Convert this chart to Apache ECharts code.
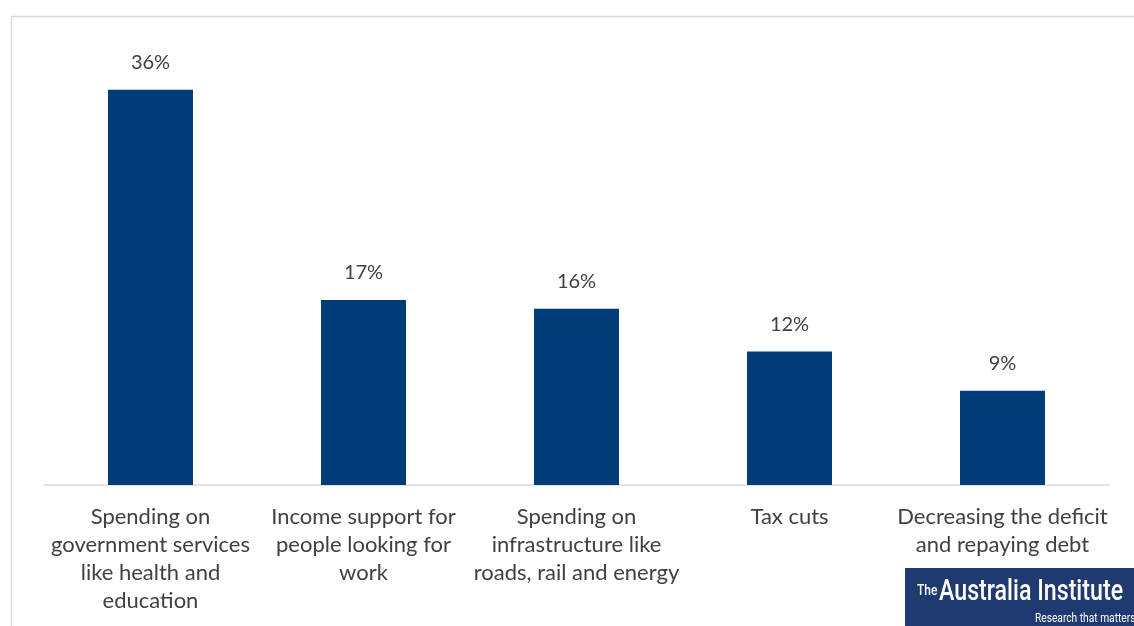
<!DOCTYPE html>
<html>
<head>
<meta charset="utf-8">
<script src="https://cdn.jsdelivr.net/npm/echarts@6/dist/echarts.min.js"></script>
<style>
html,body{margin:0;padding:0;background:#fff;}
#chart{width:1134px;height:626px;}
</style>
</head>
<body>
<div id="chart"></div>
<script>
const categories = [
  "Spending on\ngovernment services\nlike health and\neducation",
  "Income support for\npeople looking for\nwork",
  "Spending on\ninfrastructure like\nroads, rail and energy",
  "Tax cuts",
  "Decreasing the deficit\nand repaying debt"
];
const values = [36.1, 16.9, 16.1, 12.2, 8.6];

const chart = echarts.init(document.getElementById('chart'));
const FONT = 'Lato, "Open Sans", sans-serif';
chart.setOption({
  animation: false,
  grid: {left: 44, right: 25, top: 47, bottom: 141, containLabel: false},
  xAxis: {
    type: 'category',
    data: categories,
    axisLine: {lineStyle: {color: '#d9d9d9', width: 1.5}},
    axisTick: {show: false},
    axisLabel: {
      interval: 0, color: '#404040', fontFamily: FONT, fontSize: 22,
      lineHeight: 28, margin: 18
    }
  },
  yAxis: {
    type: 'value', min: 0, max: 40,
    show: false,
    splitLine: {show: false}
  },
  series: [{
    type: 'bar',
    data: values,
    barWidth: 85,
    itemStyle: {color: '#003c78'},
    label: {
      show: true, position: 'top', distance: 17,
      color: '#404040', fontFamily: FONT, fontSize: 20,
      formatter: p => Math.round(p.value) + '%'
    }
  }],
  graphic: [
    {type: 'rect', left: 9, top: 14, z: -1,
     shape: {width: 1140, height: 700},
     style: {fill: 'none', stroke: '#d9d9d9', lineWidth: 1.5}},
    {type: 'rect', left: 905, top: 568, z: 10,
     shape: {width: 240, height: 70},
     style: {fill: '#1f3a70'}},
    {type: 'text', x: 917, y: 584, z: 11, scaleX: 0.8,
     style: {text: 'The', fill: '#fff', font: '500 15px Roboto, sans-serif'}},
    {type: 'text', x: 939, y: 578, z: 11, scaleX: 0.8,
     style: {text: 'Australia Institute', fill: '#fff', font: '500 29px Roboto, sans-serif'}},
    {type: 'text', x: 1035, y: 613, z: 11, scaleX: 0.85,
     style: {text: 'Research that matters', fill: '#fff', font: '12px Roboto, sans-serif'}}
  ]
});
</script>
</body>
</html>
